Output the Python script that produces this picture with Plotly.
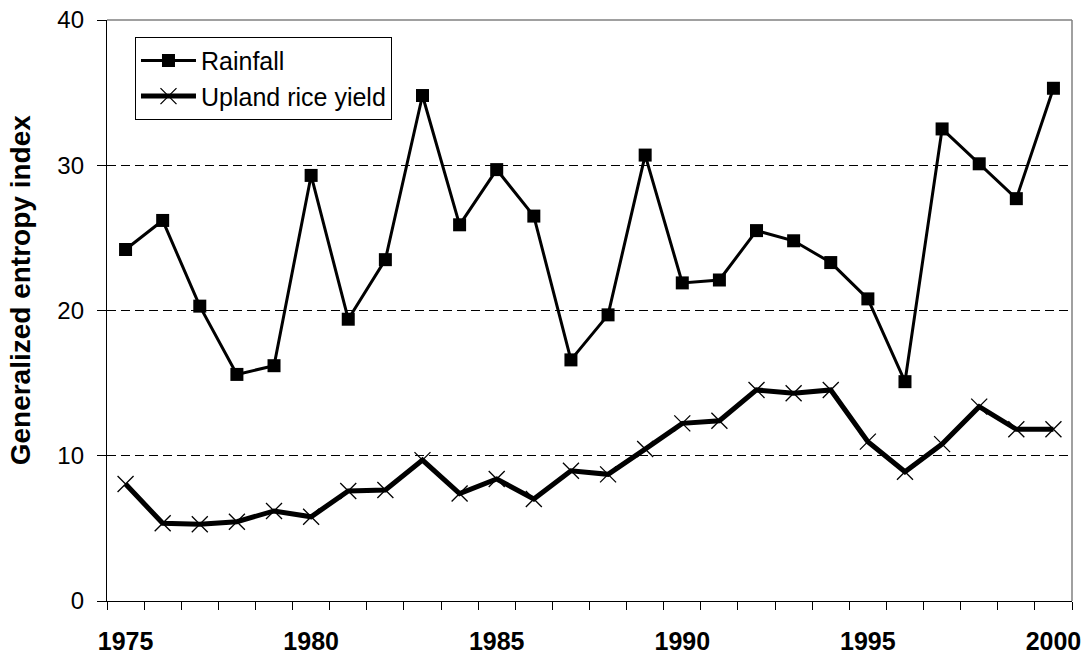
import plotly.graph_objects as go

years = list(range(1975, 2001))
rainfall = [24.2, 26.2, 20.3, 15.6, 16.2, 29.3, 19.4, 23.5, 34.8, 25.9,
            29.7, 26.5, 16.6, 19.7, 30.7, 21.9, 22.1, 25.5, 24.8, 23.3,
            20.8, 15.1, 32.5, 30.1, 27.7, 35.3]
upland_rice = [8.05, 5.35, 5.28, 5.46, 6.2, 5.8, 7.57, 7.64, 9.7, 7.4,
               8.4, 7.02, 8.97, 8.72, 10.46, 12.23, 12.41, 14.53, 14.3, 14.53,
               10.97, 8.9, 10.8, 13.38, 11.82, 11.82]
label_years = [1975, 1980, 1985, 1990, 1995, 2000]
y_ticks = [0, 10, 20, 30, 40]

FONT = "Liberation Sans, Arial, sans-serif"

fig = go.Figure()
fig.add_trace(go.Scatter(
    x=years, y=rainfall, name="Rainfall", mode="lines+markers",
    line=dict(color="black", width=3),
    marker=dict(symbol="square", size=13, color="black"),
    legendgroup="a",
))
fig.add_trace(go.Scatter(
    x=years, y=upland_rice, name="Upland rice yield", mode="lines+markers",
    line=dict(color="black", width=5),
    marker=dict(symbol="x-thin", size=16, color="black",
                line=dict(color="black", width=1.3)),
    legendgroup="b",
))

# grey plot-area border on top and right (Excel style)
fig.add_shape(type="line", xref="x domain", yref="y domain",
              x0=0, x1=1, y0=1, y1=1, line=dict(color="#808080", width=1.5))
fig.add_shape(type="line", xref="x domain", yref="y domain",
              x0=1, x1=1, y0=0, y1=1, line=dict(color="#808080", width=1.5))

# y-axis title placed like the original (slightly above centre)
fig.add_annotation(
    text="Generalized entropy index", textangle=-90,
    xref="paper", yref="paper", x=-0.09, y=0.535,
    xanchor="center", yanchor="middle", showarrow=False,
    font=dict(size=28, family=FONT, weight="bold", color="black"),
)

fig.update_layout(
    width=1085, height=656,
    paper_bgcolor="white", plot_bgcolor="white",
    margin=dict(l=107, r=13, t=20, b=55),
    font=dict(family=FONT, color="black"),
    showlegend=True,
    legend=dict(
        x=0.029, y=0.971, xanchor="left", yanchor="top",
        bgcolor="white", bordercolor="black", borderwidth=1,
        font=dict(size=25, family=FONT),
        traceorder="grouped", tracegroupgap=0,
        itemwidth=55,
    ),
    xaxis=dict(
        range=[1974.5, 2000.5],
        automargin=False,
        tickvals=label_years,
        ticktext=[str(y) for y in label_years],
        ticks="",
        tickfont=dict(size=25, family=FONT, weight="bold"),
        ticklabelstandoff=18,
        showline=True, linecolor="black", linewidth=1.3,
        showgrid=False, zeroline=False,
        minor=dict(ticks="outside", ticklen=8, tickwidth=1.3,
                   tickcolor="black", tick0=1974.5, dtick=1, showgrid=False),
    ),
    yaxis=dict(
        range=[0, 40],
        automargin=False,
        tickvals=y_ticks,
        ticks="outside", ticklen=9, tickwidth=1.3, tickcolor="black",
        tickfont=dict(size=24, family=FONT),
        ticklabelstandoff=8,
        showline=True, linecolor="black", linewidth=1.3,
        showgrid=True, gridcolor="black", gridwidth=1, griddash="9px,5px",
        zeroline=False,
    ),
)

fig.write_html("out.html", config={"displayModeBar": False},
               post_script="document.body.style.margin='0px';")
